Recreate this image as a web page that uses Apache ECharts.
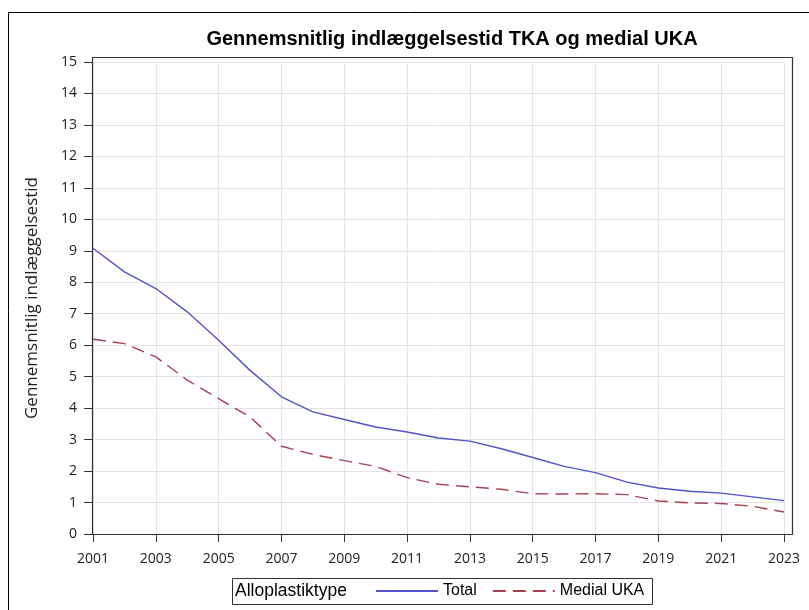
<!DOCTYPE html>
<html>
<head>
<meta charset="utf-8">
<script src="https://cdn.jsdelivr.net/npm/echarts@6/dist/echarts.min.js"></script>
<style>
  html, body { margin: 0; padding: 0; background: #fff; }
  #chart { width: 809px; height: 610px; }
</style>
</head>
<body>
<div id="chart"></div>
<script>
// år på x-aksen
var years = ['2001','2002','2003','2004','2005','2006','2007','2008','2009','2010','2011','2012',
             '2013','2014','2015','2016','2017','2018','2019','2020','2021','2022','2023'];
// gennemsnitlig indlæggelsestid (dage)
var total = [9.08, 8.33, 7.80, 7.06, 6.16, 5.20, 4.36, 3.88, 3.64, 3.40, 3.24, 3.05,
             2.95, 2.71, 2.43, 2.15, 1.95, 1.65, 1.46, 1.36, 1.30, 1.18, 1.06];
var medialUKA = [6.19, 6.05, 5.63, 4.89, 4.30, 3.72, 2.79, 2.53, 2.33, 2.15, 1.79, 1.58,
                 1.50, 1.42, 1.28, 1.27, 1.28, 1.25, 1.05, 0.99, 0.97, 0.88, 0.70];
var yTicks = [0, 15, 1]; // min, max, interval

var chart = echarts.init(document.getElementById('chart'));

var option = {
  backgroundColor: '#fff',
  animation: false,
  title: {
    text: 'Gennemsnitlig indlæggelsestid TKA og medial UKA',
    left: 447,
    textAlign: 'center',
    top: 24,
    textStyle: { fontFamily: 'Liberation Sans', fontWeight: 'bold', fontSize: 20, color: '#000' }
  },
  grid: { left: 93, right: 25, top: 62, bottom: 76 },
  // legend ligger inde i en ramme sammen med "Alloplastiktype"
  legend: {
    left: 375,
    top: 583,
    padding: 0,
    itemWidth: 62,
    itemHeight: 14,
    itemGap: 15,
    itemStyle: { opacity: 0 },
    textStyle: { fontFamily: 'Liberation Sans', fontSize: 16, color: '#000' },
    data: ['Total', 'Medial UKA']
  },
  xAxis: {
    type: 'category',
    data: years,
    boundaryGap: false,
    axisLine: { show: false },
    axisTick: { show: true, interval: 1, length: 8, lineStyle: { color: '#333' } },
    axisLabel: { interval: 1, margin: 18, fontFamily: 'Open Sans', fontSize: 14, color: '#222' },
    splitLine: { show: true, interval: 1, lineStyle: { color: '#e4e4e4' } }
  },
  yAxis: {
    type: 'value',
    min: yTicks[0],
    max: yTicks[1],
    interval: yTicks[2],
    name: 'Gennemsnitlig indlæggelsestid',
    nameLocation: 'middle',
    nameGap: 52,
    nameTextStyle: { fontFamily: 'Open Sans', fontSize: 17, color: '#222' },
    axisLine: { show: false },
    axisTick: { show: true, length: 9, lineStyle: { color: '#333' } },
    axisLabel: { margin: 16, fontFamily: 'Open Sans', fontSize: 14, color: '#222' },
    splitLine: { show: true, lineStyle: { color: '#e4e4e4' } }
  },
  graphic: [
    // ydre ramme
    { type: 'rect', silent: true, shape: { x: 8.5, y: 12.5, width: 820, height: 620 },
      style: { fill: 'none', stroke: '#000', lineWidth: 1 } },
    // plotramme
    { type: 'rect', silent: true, z: 10, shape: { x: 92.5, y: 57.5, width: 700, height: 477 },
      style: { fill: 'none', stroke: '#333', lineWidth: 1.2 } },
    // legendramme
    { type: 'rect', silent: true, shape: { x: 232.5, y: 578.5, width: 420, height: 26 },
      style: { fill: 'none', stroke: '#333', lineWidth: 1 } },
    { type: 'text', silent: true, left: 235, top: 582,
      style: { text: 'Alloplastiktype', fontFamily: 'Liberation Sans', fontSize: 17.5, fill: '#000' } }
  ],
  series: [
    {
      name: 'Total',
      type: 'line',
      data: total,
      symbol: 'none',
      lineStyle: { color: '#5252c8', width: 1.4 },
      itemStyle: { color: '#5252c8' }
    },
    {
      name: 'Medial UKA',
      type: 'line',
      data: medialUKA,
      symbol: 'none',
      lineStyle: { color: '#a8404f', width: 1.4, type: [13, 7] },
      itemStyle: { color: '#a8404f' }
    }
  ]
};

chart.setOption(option);
</script>
</body>
</html>
